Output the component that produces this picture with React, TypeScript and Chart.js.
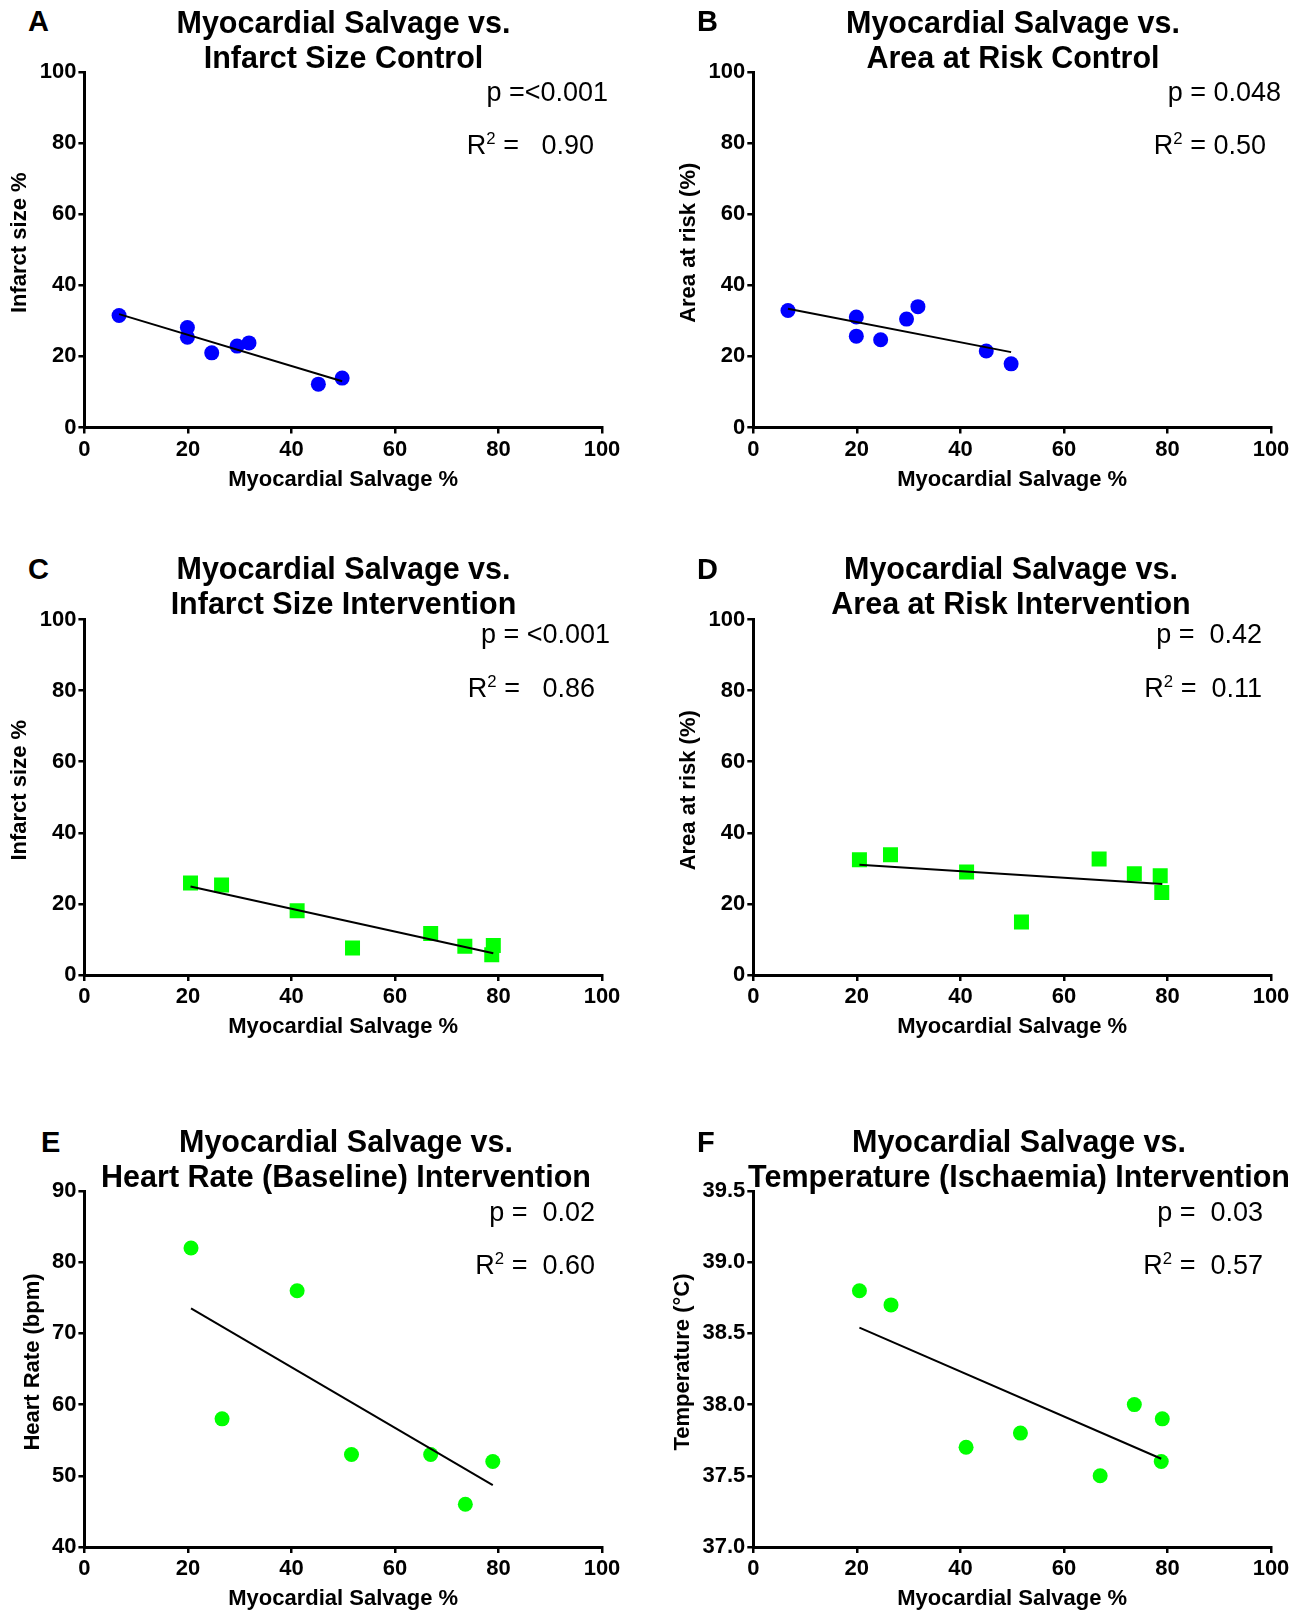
import React, { useEffect, useRef } from "react";
import { Chart, registerables } from "chart.js";

Chart.register(...registerables);

const FONT = "'Liberation Sans', Arial, Helvetica, sans-serif";

// ---------------- Data ----------------
// A: Myocardial salvage vs infarct size (control)
const salvageA = [6.7, 19.9, 19.9, 24.6, 29.5, 31.8, 45.2, 49.8];
const infarctA = [31.5, 28.1, 25.4, 21.0, 22.9, 23.8, 12.2, 13.9];
const fitXA = [6.7, 49.8];
const fitYA = [31.9, 13.0];

// B: Myocardial salvage vs area at risk (control)
const salvageB = [6.7, 19.9, 19.9, 24.6, 29.6, 31.8, 45.0, 49.8];
const aarB = [32.9, 31.1, 25.7, 24.7, 30.5, 34.0, 21.5, 17.9];
const fitXB = [6.7, 49.8];
const fitYB = [33.4, 21.2];

// C: Myocardial salvage vs infarct size (intervention)
const salvageC = [20.5, 26.5, 41.1, 51.8, 66.9, 73.5, 79.0, 78.7];
const infarctC = [25.9, 25.3, 18.1, 7.6, 11.7, 8.1, 8.3, 5.7];
const fitXC = [20.5, 79.0];
const fitYC = [24.9, 6.1];

// D: Myocardial salvage vs area at risk (intervention)
const salvageD = [20.5, 26.5, 41.2, 51.8, 66.8, 73.6, 78.6, 78.9];
const aarD = [32.4, 33.8, 29.0, 14.9, 32.6, 28.5, 27.9, 23.2];
const fitXD = [20.5, 79.0];
const fitYD = [31.0, 25.6];

// E: Myocardial salvage vs heart rate (baseline, intervention)
const salvageE = [20.6, 26.6, 41.1, 51.6, 66.9, 73.6, 78.9];
const heartRateE = [82, 58, 76, 53, 53, 46, 52];
const fitXE = [20.6, 78.9];
const fitYE = [73.5, 48.7];

// F: Myocardial salvage vs temperature (ischaemia, intervention)
const salvageF = [20.5, 26.6, 41.1, 51.6, 67.0, 73.6, 79.0, 78.8];
const temperatureF = [38.8, 38.7, 37.7, 37.8, 37.5, 38.0, 37.9, 37.6];
const fitXF = [20.5, 78.8];
const fitYF = [38.54, 37.62];

// Tick values / labels
const xTickValues = [0, 20, 40, 60, 80, 100];
const xTickLabels = ["0", "20", "40", "60", "80", "100"];
const pctTickValues = [0, 20, 40, 60, 80, 100];
const pctTickLabels = ["0", "20", "40", "60", "80", "100"];
const hrTickValues = [40, 50, 60, 70, 80, 90];
const hrTickLabels = ["40", "50", "60", "70", "80", "90"];
const tempTickValues = [37.0, 37.5, 38.0, 38.5, 39.0, 39.5];
const tempTickLabels = ["37.0", "37.5", "38.0", "38.5", "39.0", "39.5"];

// Texts
const panelLetters = ["A", "B", "C", "D", "E", "F"];
const titleLine1 = [
  "Myocardial Salvage vs.",
  "Myocardial Salvage vs.",
  "Myocardial Salvage vs.",
  "Myocardial Salvage vs.",
  "Myocardial Salvage vs.",
  "Myocardial Salvage vs.",
];
const titleLine2 = [
  "Infarct Size Control",
  "Area at Risk Control",
  "Infarct Size Intervention",
  "Area at Risk Intervention",
  "Heart Rate (Baseline) Intervention",
  "Temperature (Ischaemia) Intervention",
];
const xAxisTitle = "Myocardial Salvage %";
const yAxisTitles = [
  "Infarct size %",
  "Area at risk (%)",
  "Infarct size %",
  "Area at risk (%)",
  "Heart Rate (bpm)",
  "Temperature (\u00B0C)",
];
const pTexts = ["p =<0.001", "p = 0.048", "p = <0.001", "p =  0.42", "p =  0.02", "p =  0.03"];
const r2Texts = [" =   0.90", " = 0.50", " =   0.86", " =  0.11", " =  0.60", " =  0.57"];

// ---------------- Layout (positions / styles) ----------------
const COLS = [
  { cl: 0, cw: 653, L: 84.4, R: 602 },
  { cl: 653, cw: 654, L: 753.3, R: 1271 },
];
const ROWS = [
  { T: 72, B: 427.5, titleY: 22, letterY: 21.5, pY: 92.5, rY: 145 },
  { T: 619.5, B: 975, titleY: 568, letterY: 569, pY: 634, rY: 688 },
  { T: 1191, B: 1547, titleY: 1141, letterY: 1142, pY: 1212.5, rY: 1265 },
];

const BLUE = "#0000ff";
const GREEN = "#00ff00";

type Spec = {
  idx: number;
  col: number;
  row: number;
  xs: number[];
  ys: number[];
  fx: number[];
  fy: number[];
  yVals: number[];
  yLabels: string[];
  color: string;
  shape: "circle" | "rect";
  yTitleOffset: number;
  titleCx: number;
  letterX: number;
  pRight: number;
  rRight: number;
};

const specs: Spec[] = [
  { idx: 0, col: 0, row: 0, xs: salvageA, ys: infarctA, fx: fitXA, fy: fitYA, yVals: pctTickValues, yLabels: pctTickLabels, color: BLUE, shape: "circle", yTitleOffset: 64, titleCx: 343.5, letterX: 28, pRight: 608, rRight: 594 },
  { idx: 1, col: 1, row: 0, xs: salvageB, ys: aarB, fx: fitXB, fy: fitYB, yVals: pctTickValues, yLabels: pctTickLabels, color: BLUE, shape: "circle", yTitleOffset: 64, titleCx: 1013, letterX: 697, pRight: 1281, rRight: 1266 },
  { idx: 2, col: 0, row: 1, xs: salvageC, ys: infarctC, fx: fitXC, fy: fitYC, yVals: pctTickValues, yLabels: pctTickLabels, color: GREEN, shape: "rect", yTitleOffset: 64, titleCx: 343.5, letterX: 28, pRight: 610, rRight: 595 },
  { idx: 3, col: 1, row: 1, xs: salvageD, ys: aarD, fx: fitXD, fy: fitYD, yVals: pctTickValues, yLabels: pctTickLabels, color: GREEN, shape: "rect", yTitleOffset: 64, titleCx: 1011, letterX: 697, pRight: 1262, rRight: 1262 },
  { idx: 4, col: 0, row: 2, xs: salvageE, ys: heartRateE, fx: fitXE, fy: fitYE, yVals: hrTickValues, yLabels: hrTickLabels, color: GREEN, shape: "circle", yTitleOffset: 51, titleCx: 346, letterX: 41, pRight: 595, rRight: 595 },
  { idx: 5, col: 1, row: 2, xs: salvageF, ys: temperatureF, fx: fitXF, fy: fitYF, yVals: tempTickValues, yLabels: tempTickLabels, color: GREEN, shape: "circle", yTitleOffset: 70, titleCx: 1019, letterX: 697, pRight: 1263, rRight: 1263 },
];

const axisTitlePlugin = {
  id: "axisTitles",
  afterDraw(chart: any, _args: any, opts: any) {
    const { ctx, chartArea } = chart;
    ctx.save();
    ctx.fillStyle = "#000";
    ctx.font = `bold 22px ${FONT}`;
    ctx.textAlign = "center";
    ctx.textBaseline = "middle";
    ctx.fillText(opts.xTitle, (chartArea.left + chartArea.right) / 2, chartArea.bottom + 52);
    ctx.translate(chartArea.left - opts.yOffset, (chartArea.top + chartArea.bottom) / 2 - 7);
    ctx.rotate(-Math.PI / 2);
    ctx.fillText(opts.yTitle, 0, 0);
    ctx.restore();
  },
};

function ScatterPanel({ spec }: { spec: Spec }) {
  const ref = useRef<HTMLCanvasElement>(null);
  const col = COLS[spec.col];
  const row = ROWS[spec.row];
  const canvasLeft = col.cl;
  const canvasTop = Math.floor(row.T - 25);
  const canvasW = col.cw;
  const canvasH = Math.ceil(row.B + 65) - canvasTop;

  useEffect(() => {
    const YW = 64;
    const XH = 40;
    const padding = {
      left: col.L - canvasLeft - YW,
      top: row.T - canvasTop,
      right: canvasLeft + canvasW - col.R,
      bottom: canvasTop + canvasH - row.B - XH,
    };
    const tickFont = { family: FONT, size: 22, weight: "bold" as const };
    const chart = new Chart(ref.current as HTMLCanvasElement, {
      type: "scatter",
      data: {
        datasets: [
          {
            data: spec.fx.map((x, i) => ({ x, y: spec.fy[i] })),
            showLine: true,
            pointRadius: 0,
            borderColor: "#000",
            borderWidth: 2,
            fill: false,
          } as any,
          {
            data: spec.xs.map((x, i) => ({ x, y: spec.ys[i] })),
            pointStyle: spec.shape,
            pointRadius: spec.shape === "rect" ? 10.6 : 7.5,
            backgroundColor: spec.color,
            borderColor: spec.color,
            borderWidth: 0,
          } as any,
        ],
      },
      options: {
        animation: false,
        responsive: false,
        devicePixelRatio: 1,
        layout: { padding },
        plugins: {
          legend: { display: false },
          tooltip: { enabled: false },
          title: { display: false },
          axisTitles: { xTitle: xAxisTitle, yTitle: yAxisTitles[spec.idx], yOffset: spec.yTitleOffset },
        } as any,
        scales: {
          x: {
            type: "linear",
            position: "bottom",
            min: xTickValues[0],
            max: xTickValues[xTickValues.length - 1],
            afterBuildTicks: (axis: any) => {
              axis.ticks = xTickValues.map((v) => ({ value: v }));
            },
            afterFit: (axis: any) => {
              axis.height = XH;
            },
            ticks: {
              color: "#000",
              font: tickFont,
              padding: 3,
              maxRotation: 0,
              autoSkip: false,
              callback: (_v: any, i: number) => xTickLabels[i],
            },
            grid: { display: true, drawOnChartArea: false, drawTicks: true, tickLength: 6, color: "#000", lineWidth: 2.5 },
            border: { display: true, color: "#000", width: 3 },
          },
          y: {
            type: "linear",
            position: "left",
            min: spec.yVals[0],
            max: spec.yVals[spec.yVals.length - 1],
            afterBuildTicks: (axis: any) => {
              axis.ticks = spec.yVals.map((v) => ({ value: v }));
            },
            afterFit: (axis: any) => {
              axis.width = YW;
            },
            ticks: {
              color: "#000",
              font: tickFont,
              padding: 2,
              autoSkip: false,
              callback: (_v: any, i: number) => spec.yLabels[i],
            },
            grid: { display: true, drawOnChartArea: false, drawTicks: true, tickLength: 6, color: "#000", lineWidth: 2.5 },
            border: { display: true, color: "#000", width: 3 },
          },
        } as any,
      },
      plugins: [axisTitlePlugin as any],
    });
    return () => chart.destroy();
  }, []);

  return (
    <canvas
      ref={ref}
      width={canvasW}
      height={canvasH}
      style={{ position: "absolute", left: canvasLeft, top: canvasTop, width: canvasW, height: canvasH }}
    />
  );
}

function textTop(capCenter: number, size: number, lineHeight: number) {
  return capCenter - ((lineHeight - 1.117 * size) / 2 + 0.547 * size);
}

function PanelTexts({ spec }: { spec: Spec }) {
  const row = ROWS[spec.row];
  const TS = 30.5;
  const TLH = 35;
  const LS = 29;
  const AS = 27;
  const base: React.CSSProperties = { position: "absolute", fontFamily: FONT, color: "#000", whiteSpace: "pre" };
  return (
    <>
      <div
        style={{ ...base, left: spec.letterX, top: textTop(row.letterY, LS, LS), fontSize: LS, lineHeight: `${LS}px`, fontWeight: "bold" }}
      >
        {panelLetters[spec.idx]}
      </div>
      <div
        style={{
          ...base,
          left: spec.titleCx - 400,
          width: 800,
          textAlign: "center",
          top: textTop(row.titleY, TS, TLH),
          fontSize: TS,
          lineHeight: `${TLH}px`,
          fontWeight: "bold",
        }}
      >
        {titleLine1[spec.idx]}
        <br />
        {titleLine2[spec.idx]}
      </div>
      <div
        style={{ ...base, right: 1307 - spec.pRight, top: textTop(row.pY, AS, AS), fontSize: AS, lineHeight: `${AS}px` }}
      >
        {pTexts[spec.idx]}
      </div>
      <div
        style={{ ...base, right: 1307 - spec.rRight, top: textTop(row.rY, AS, AS), fontSize: AS, lineHeight: `${AS}px` }}
      >
        R<sup style={{ fontSize: "0.62em", verticalAlign: "0.6em", lineHeight: 0 }}>2</sup>
        {r2Texts[spec.idx]}
      </div>
    </>
  );
}

export default function App() {
  return (
    <div
      style={{
        position: "absolute",
        left: 0,
        top: 0,
        width: 1307,
        height: 1614,
        overflow: "hidden",
        background: "#fff",
      }}
    >
      {specs.map((s) => (
        <ScatterPanel key={"c" + s.idx} spec={s} />
      ))}
      {specs.map((s) => (
        <PanelTexts key={"t" + s.idx} spec={s} />
      ))}
    </div>
  );
}
